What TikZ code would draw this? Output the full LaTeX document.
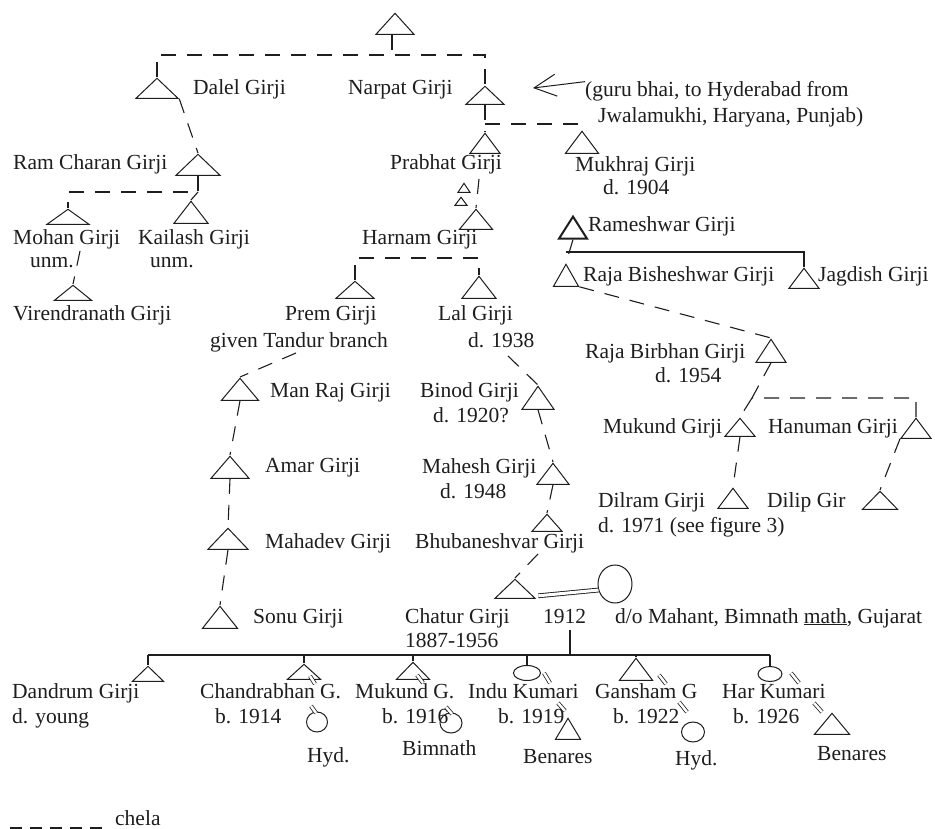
\documentclass[tikz,border=0pt]{standalone}
\usepackage{fontspec}
\setmainfont{Liberation Serif}
\usetikzlibrary{shapes.geometric, arrows.meta}
\definecolor{ink}{RGB}{30,30,30}
\begin{document}
\begin{tikzpicture}[x=1pt, y=-1pt,
  tri/.style 2 args={draw=ink, isosceles triangle, isosceles triangle stretches, shape border rotate=90, minimum width=#1pt, minimum height=#2pt, inner sep=0pt, anchor=apex, line width=1pt},
  fem/.style 2 args={draw=ink, ellipse, minimum width=#1pt, minimum height=#2pt, inner sep=0pt, line width=1pt},
  lbl/.style={anchor=base west, inner sep=0pt, text=ink, font=\fontsize{21.5}{25}\selectfont},
  chela/.style={draw=ink, line width=1.1pt, dash pattern=on 15pt off 11pt},
  sol/.style={draw=ink, line width=1.1pt},
  mm/.style={draw=ink, double=white, double distance=2.5pt, line width=0.8pt}]
\useasboundingbox (0,0) rectangle (935,829);
\fill[white] (0,0) rectangle (935,829);

% ---- triangles (men) ----
\node[tri={38}{21}] (top) at (395,12) {};
\node[tri={42}{20}] (dalel) at (157,77) {};
\node[tri={38}{18}] (narpat) at (485,85) {};
\node[tri={44}{21}] (ramch) at (198,153) {};
\node[tri={30}{20}] (prabhat) at (485,132) {};
\node[tri={33}{22}] (mukhraj) at (582,130) {};
\node[tri={42}{15}] (mohan) at (68,208) {};
\node[tri={34}{22}] (kailash) at (191,200) {};
\node[tri={12}{9}] (tinyA) at (464,182) {};
\node[tri={12}{8}] (tinyB) at (461,196) {};
\node[tri={33}{20}] (harnam) at (476,208) {};
\node[tri={28}{22}, line width=2pt] (ramesh) at (573,214) {};
\node[tri={25}{22}] (bish) at (566,263) {};
\node[tri={30}{20}] (jag) at (804,267) {};
\node[tri={37}{15}] (viren) at (73,284) {};
\node[tri={38}{17}] (prem) at (355,280) {};
\node[tri={34}{22}] (lal) at (479,275) {};
\node[tri={30}{23}] (birbhan) at (771,338) {};
\node[tri={37}{22}] (manraj) at (240,377) {};
\node[tri={32}{23}] (binod) at (538,385) {};
\node[tri={30}{18}] (mukund) at (740,417) {};
\node[tri={30}{20}] (hanuman) at (916,417) {};
\node[tri={38}{22}] (amar) at (230,455) {};
\node[tri={32}{21}] (mahesh) at (553,462) {};
\node[tri={30}{20}] (dilram) at (733,487) {};
\node[tri={35}{18}] (dilip) at (880,490) {};
\node[tri={40}{21}] (mahadev) at (228,527) {};
\node[tri={30}{17}] (bhub) at (547,513) {};
\node[tri={35}{22}] (sonu) at (220,605) {};
\node[tri={40}{19}] (chatur) at (515,578) {};
\node[tri={31}{15}] (dandrum) at (148,665) {};
\node[tri={33}{15}] (chandra) at (304,663) {};
\node[tri={33}{17}] (mukundg) at (413,661) {};
\node[tri={33}{22}] (gansham) at (636,657) {};
\node[tri={25}{21}] (induh) at (568,717) {};
\node[tri={35}{21}] (harh) at (832,712) {};

% ---- circles (women) ----
\node[fem={34}{38}] (chaturw) at (615,584) {};
\node[fem={21}{20}] (chandraw) at (317,722) {};
\node[fem={22}{20}] (mukundw) at (451,723) {};
\node[fem={27}{15}] (indu) at (527,673) {};
\node[fem={23}{20}] (ganshamw) at (693,732) {};
\node[fem={24}{15}] (har) at (770,674) {};

% ---- labels ----
\node[lbl] (tDalel) at (193,95) {Dalel Girji};
\node[lbl] (tNarpat) at (348,95) {Narpat Girji};
\node[lbl] (guru1) at (585,97) {(guru bhai, to Hyderabad from};
\node[lbl] (guru2) at (598,123) {Jwalamukhi, Haryana, Punjab)};
\node[lbl] (tRamch) at (13,170) {Ram Charan Girji};
\node[lbl] (tPrabhat) at (390,170) {Prabhat Girji};
\node[lbl] (tMukhraj) at (575,172) {Mukhraj Girji};
\node[lbl] (tMukhrajD) at (603,195) {d. 1904};
\node[lbl] (tRamesh) at (588,232) {Rameshwar Girji};
\node[lbl] (tMohan) at (13,245) {Mohan Girji};
\node[lbl] (tKailash) at (138,245) {Kailash Girji};
\node[lbl] (tHarnam) at (362,245) {Harnam Girji};
\node[lbl] (tUnm1) at (30,268) {unm.};
\node[lbl] (tUnm2) at (150,268) {unm.};
\node[lbl] (tBish) at (583,282) {Raja Bisheshwar Girji};
\node[lbl] (tJag) at (818,282) {Jagdish Girji};
\node[lbl] (tViren) at (13,320) {Virendranath Girji};
\node[lbl] (tPrem) at (285,320) {Prem Girji};
\node[lbl] (tLal) at (438,320) {Lal Girji};
\node[lbl] (tPremB) at (210,347) {given Tandur branch};
\node[lbl] (tLalD) at (468,347) {d. 1938};
\node[lbl] (tBirbhan) at (585,358) {Raja Birbhan Girji};
\node[lbl] (tBirbhanD) at (655,382) {d. 1954};
\node[lbl] (tManraj) at (270,397) {Man Raj Girji};
\node[lbl] (tBinod) at (420,397) {Binod Girji};
\node[lbl] (tBinodD) at (433,422) {d. 1920?};
\node[lbl] (tMukund) at (603,433) {Mukund Girji};
\node[lbl] (tHanuman) at (768,433) {Hanuman Girji};
\node[lbl] (tAmar) at (265,472) {Amar Girji};
\node[lbl] (tMahesh) at (422,473) {Mahesh Girji};
\node[lbl] (tMaheshD) at (440,498) {d. 1948};
\node[lbl] (tDilram) at (598,507) {Dilram Girji};
\node[lbl] (tDilip) at (767,507) {Dilip Gir};
\node[lbl] (tDilramD) at (598,532) {d. 1971 (see figure 3)};
\node[lbl] (tMahadev) at (265,548) {Mahadev Girji};
\node[lbl] (tBhub) at (415,548) {Bhubaneshvar Girji};
\node[lbl] (tSonu) at (253,623) {Sonu Girji};
\node[lbl] (tChatur) at (405,623) {Chatur Girji};
\node[lbl] (t1912) at (543,623) {1912};
\node[lbl] (tDo) at (615,623) {d/o Mahant, Bimnath \underline{math}, Gujarat};
\node[lbl] (tChaturD) at (405,647) {1887-1956};
\node[lbl] (tDandrum) at (12,698) {Dandrum Girji};
\node[lbl] (tChandra) at (200,698) {Chandrabhan G.};
\node[lbl] (tMukundG) at (355,698) {Mukund G.};
\node[lbl] (tIndu) at (468,698) {Indu Kumari};
\node[lbl] (tGansham) at (595,698) {Gansham G};
\node[lbl] (tHar) at (722,698) {Har Kumari};
\node[lbl] (tDandrumD) at (12,723) {d. young};
\node[lbl] (tChandraD) at (215,723) {b. 1914};
\node[lbl] (tMukundGD) at (382,723) {b. 1916};
\node[lbl] (tInduD) at (498,723) {b. 1919};
\node[lbl] (tGanshamD) at (613,723) {b. 1922};
\node[lbl] (tHarD) at (733,723) {b. 1926};
\node[lbl] (tHyd1) at (307,762) {Hyd.};
\node[lbl] (tBimnath) at (402,755) {Bimnath};
\node[lbl] (tBen1) at (523,763) {Benares};
\node[lbl] (tHyd2) at (675,765) {Hyd.};
\node[lbl] (tBen2) at (817,760) {Benares};
\node[lbl] (tChela) at (115,825) {chela};

% ---- helper coordinates ----
\coordinate (topbar) at (392,55);
\coordinate (nbar) at (0,124);
\coordinate (rcbar) at (0,192);
\coordinate (hbar) at (0,258);
\coordinate (bbar) at (0,252);
\coordinate (mv) at (80,251);
\coordinate (ph) at (479,179);
\coordinate (lb) at (508,356);
\coordinate (pm) at (296,353);
\coordinate (bc) at (538,554);
\coordinate (bj) at (752,398);
\coordinate (v1) at (570,630);
\coordinate (cbar) at (0,655);
\coordinate (arrtip) at (533,88);
\coordinate (lg1) at (10,828);
\coordinate (lg2) at (104,828);

% ---- chela (dashed) connectors ----
\draw[chela] (top.lower side -| topbar) -- (topbar);
\draw[chela] (dalel.apex) -- (dalel.apex |- topbar) -- (narpat.apex |- topbar) -- (narpat.apex);
\draw[chela] (dalel.right corner) -- (ramch.apex);
\draw[chela] (ramch.lower side) -- (ramch.lower side |- rcbar) -| (mohan.apex);
\draw[chela] (ramch.lower side |- rcbar) -- (kailash.apex);
\draw[chela] (mv) -- (viren.apex);
\draw[chela] (narpat.lower side) -- (prabhat.apex);
\draw[chela] (narpat.lower side |- nbar) -| (mukhraj.apex);
\draw[chela] (ph) -- (harnam.apex);
\draw[chela] (prem.apex) -- (prem.apex |- hbar) -- (lal.apex |- hbar) -- (lal.apex);
\draw[chela] (ramesh.lower side) -- (bish.apex);
\draw[chela] (bish.right corner) -- (birbhan.apex);
\draw[chela] (birbhan.lower side) -- (bj) -- (bj -| hanuman.apex) -- (hanuman.apex);
\draw[chela] (bj) -- (mukund.apex);
\draw[chela] (mukund.lower side) -- (dilram.apex);
\draw[chela] (hanuman.left corner) -- (dilip.apex);
\draw[chela] (lb) -- (binod.apex);
\draw[chela] (binod.lower side) -- (mahesh.apex);
\draw[chela] (mahesh.lower side) -- (bhub.apex);
\draw[chela] (bc) -- (chatur.apex);
\draw[chela] (pm) -- (manraj.apex);
\draw[chela] (manraj.lower side) -- (amar.apex);
\draw[chela] (amar.lower side) -- (mahadev.apex);
\draw[chela] (mahadev.lower side) -- (sonu.apex);

% ---- solid connectors ----
\draw[sol] (bish.apex |- bbar) -- (jag.apex |- bbar) -- (jag.apex);
\draw[draw=ink, line width=0.9pt, double=white, double distance=3pt] ([xshift=2pt,yshift=3pt]chatur.right corner) -- (chaturw.200);
\draw[sol] (v1) -- (v1 |- cbar);
\draw[sol] (dandrum.apex |- cbar) -- (har.north |- cbar);
\draw[sol] (dandrum.apex |- cbar) -- (dandrum.apex);
\draw[sol] (chandra.apex |- cbar) -- (chandra.apex);
\draw[sol] (mukundg.apex |- cbar) -- (mukundg.apex);
\draw[sol] (indu.north |- cbar) -- (indu.north);
\draw[sol] (gansham.apex |- cbar) -- (gansham.apex);
\draw[sol] (har.north |- cbar) -- (har.north);

% ---- marriage marks ----
\draw[mm] (310,676) -- (315,684);
\draw[mm] (311,706) -- (316,713);
\draw[mm] (417,675) -- (423,683);
\draw[mm] (446,707) -- (452,714);
\draw[mm] (544,673) -- (550,683);
\draw[mm] (558,703) -- (565,711);
\draw[mm] (659,675) -- (666,684);
\draw[mm] (679,702) -- (687,712);
\draw[mm] (791,673) -- (799,683);
\draw[mm] (814,703) -- (822,712);

% ---- arrow ----
\draw[draw=ink, line width=1pt, -{Straight Barb[length=22pt, width=22pt]}] (guru1.north west) -- (arrtip);

% ---- legend ----
\draw[draw=ink, line width=2.5pt, dash pattern=on 12pt off 8pt] (lg1) -- (lg2);
\end{tikzpicture}
\end{document}
